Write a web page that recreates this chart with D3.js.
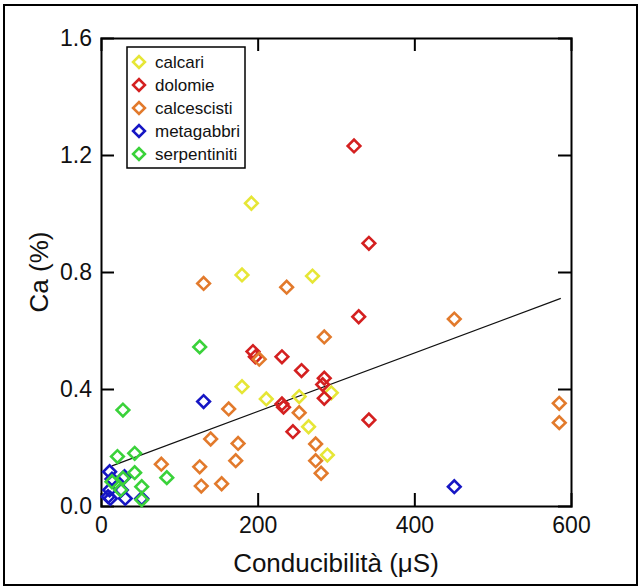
<!DOCTYPE html>
<html>
<head>
<meta charset="utf-8">
<script src="https://cdn.jsdelivr.net/npm/d3@7"></script>
<style>
  body { margin: 0; background: #fff; }
  text { font-family: Arial, "Liberation Sans", sans-serif; fill: #111; }
</style>
</head>
<body>
<div id="chart"></div>
<script>
var categories = ["calcari", "dolomie", "calcescisti", "metagabbri", "serpentiniti"];
var colors = ["#e6e636", "#d42020", "#e27a2c", "#1616c4", "#3ad23a"];

// [conducibilità µS, Ca %]
var calcari = [[192, 1.035], [180, 0.79], [270, 0.786], [180, 0.408], [211, 0.366],
    [253, 0.374], [294, 0.387], [265, 0.271], [289, 0.174]];
var dolomie = [[323, 1.231], [342, 0.898], [329, 0.647], [194, 0.528], [197, 0.51],
    [231, 0.51], [256, 0.463], [285, 0.437], [283, 0.415], [285, 0.368], [231, 0.349],
    [233, 0.338], [245, 0.254], [342, 0.294]];
var calcescisti = [[131, 0.761], [237, 0.748], [285, 0.578], [202, 0.502], [163, 0.332],
    [253, 0.319], [140, 0.229], [175, 0.214], [274, 0.212], [77, 0.143], [126, 0.134],
    [172, 0.155], [274, 0.155], [281, 0.112], [451, 0.639], [585, 0.351], [585, 0.285],
    [128, 0.068], [154, 0.076]];
var metagabbri = [[11, 0.117], [14, 0.092], [30, 0.1], [11, 0.055], [26, 0.055],
    [9, 0.032], [31, 0.026], [12, 0.026], [52, 0.026], [131, 0.357], [451, 0.066]];
var serpentiniti = [[28, 0.328], [21, 0.169], [43, 0.18], [43, 0.114], [84, 0.097],
    [28, 0.095], [14, 0.083], [52, 0.066], [25, 0.055], [52, 0.021], [126, 0.544]];

var seriesData = [calcari, dolomie, calcescisti, metagabbri, serpentiniti];

// linear fit
var fitIntercept = 0.123;
var fitSlope = 0.001;
var fitRange = [14, 587];

var xTicks = [0, 200, 400, 600];
var yTicks = [0.0, 0.4, 0.8, 1.2, 1.6];

var width = 642, height = 588;
var margin = {top: 38, left: 101, right: 71, bottom: 82};

var svg = d3.select("#chart")
    .append("svg")
    .attr("width", width)
    .attr("height", height);

// outer frame
svg.append("rect")
    .attr("x", 4).attr("y", 5)
    .attr("width", 633).attr("height", 580)
    .attr("fill", "none")
    .attr("stroke", "#000")
    .attr("stroke-width", 2);

var xScale = d3.scaleLinear()
    .domain([0, 600])
    .range([margin.left, width - margin.right]);

var yScale = d3.scaleLinear()
    .domain([0, 1.6])
    .range([height - margin.bottom, margin.top]);

var tickLen = 13;

// bottom axis
var xAxis = svg.append("g")
    .attr("transform", `translate(0,${height - margin.bottom})`)
    .call(d3.axisBottom(xScale).tickValues(xTicks).tickSize(-tickLen).tickPadding(11).tickFormat(d3.format("d")));

// top axis (mirror)
var xAxisTop = svg.append("g")
    .attr("transform", `translate(0,${margin.top})`)
    .call(d3.axisTop(xScale).tickValues(xTicks).tickSize(-tickLen).tickFormat(""));

// left axis
var yAxis = svg.append("g")
    .attr("transform", `translate(${margin.left},0)`)
    .call(d3.axisLeft(yScale).tickValues(yTicks).tickSize(-tickLen).tickPadding(9).tickFormat(d3.format(".1f")));

// right axis (mirror)
var yAxisRight = svg.append("g")
    .attr("transform", `translate(${width - margin.right},0)`)
    .call(d3.axisRight(yScale).tickValues(yTicks).tickSize(-tickLen).tickFormat(""));

svg.selectAll(".domain").attr("stroke", "#000").attr("stroke-width", 2);
svg.selectAll(".tick line").attr("stroke", "#000").attr("stroke-width", 2);
svg.selectAll(".tick text")
    .attr("font-size", 23)
    .attr("font-family", "Arial, 'Liberation Sans', sans-serif")
    .attr("fill", "#111");

// hide ticks that sit on the frame corners
xAxis.selectAll(".tick").filter(function(d) { return d === 0 || d === 600; }).select("line").remove();
xAxisTop.selectAll(".tick").filter(function(d) { return d === 0 || d === 600; }).remove();
yAxis.selectAll(".tick").filter(function(d) { return d === 0 || d === 1.6; }).select("line").remove();
yAxisRight.selectAll(".tick").filter(function(d) { return d === 0 || d === 1.6; }).remove();

// fit line
svg.append("line")
    .attr("x1", xScale(fitRange[0]))
    .attr("y1", yScale(fitIntercept + fitSlope * fitRange[0]))
    .attr("x2", xScale(fitRange[1]))
    .attr("y2", yScale(fitIntercept + fitSlope * fitRange[1]))
    .attr("stroke", "#111")
    .attr("stroke-width", 1.2);

var diamond = d3.symbol().type(d3.symbolSquare).size(80);

seriesData.forEach(function(series, i) {
    svg.append("g")
        .selectAll("path")
        .data(series)
        .enter()
        .append("path")
            .attr("d", diamond)
            .attr("transform", function(d) {
                return `translate(${xScale(d[0])},${yScale(d[1])}) rotate(45)`;
            })
            .attr("fill", "none")
            .attr("stroke", colors[i])
            .attr("stroke-width", 2.6);
});

// legend
var legend = svg.append("g").attr("transform", "translate(127,47)");
legend.append("rect")
    .attr("width", 118)
    .attr("height", 121)
    .attr("fill", "#fff")
    .attr("stroke", "#000")
    .attr("stroke-width", 1.5);

var items = legend.selectAll(".item")
    .data(categories)
    .enter()
    .append("g")
    .attr("transform", function(d, i) { return `translate(0,${15 + i * 23})`; });

items.append("path")
    .attr("d", d3.symbol().type(d3.symbolSquare).size(70))
    .attr("transform", "translate(12,0) rotate(45)")
    .attr("fill", "none")
    .attr("stroke", function(d, i) { return colors[i]; })
    .attr("stroke-width", 2.6);

items.append("text")
    .attr("x", 28)
    .attr("y", 6)
    .attr("font-size", 17)
    .text(function(d) { return d; });

// axis titles
svg.append("text")
    .attr("x", xScale(300))
    .attr("y", 572)
    .attr("text-anchor", "middle")
    .attr("font-size", 26)
    .text("Conducibilità (μS)");

svg.append("text")
    .attr("transform", "rotate(-90)")
    .attr("x", -yScale(0.8))
    .attr("y", 48)
    .attr("text-anchor", "middle")
    .attr("font-size", 26)
    .text("Ca (%)");
</script>
</body>
</html>
